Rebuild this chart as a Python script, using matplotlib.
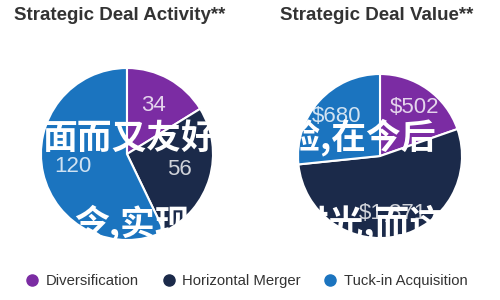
import matplotlib.pyplot as plt
from matplotlib.lines import Line2D

plt.rcParams["font.family"] = ["Liberation Sans", "DejaVu Sans"]

# Data
categories = ["Diversification", "Horizontal Merger", "Tuck-in Acquisition"]
deal_counts = [34, 56, 120]
deal_values = [502, 1371, 680]  # $M
count_labels = ["34", "56", "120"]
value_labels = ["$502", "$1,371", "$680"]
titles = ["Strategic Deal Activity**", "Strategic Deal Value**"]
colors = ["#7b2ca3", "#1b2a4a", "#1b74bf"]

# overlaid watermark text (white)
watermark_rows = ["面而又友好的体验,在今后", "令,实现的目标时光,而这"]


def draw_pie(ax, values, labels, center, radius, explode_idx, pctdist):
    it = iter(labels)
    explode = [0.05 if i == explode_idx else 0 for i in range(len(values))]
    wedges, _, autotexts = ax.pie(
        values,
        center=center,
        radius=radius,
        colors=colors,
        startangle=90,
        counterclock=False,
        explode=explode,
        autopct=lambda p: next(it),
        pctdistance=pctdist,
        wedgeprops=dict(edgecolor="white", linewidth=1.5),
        textprops=dict(color="white", alpha=0.8, fontsize=16),
    )
    return wedges


fig = plt.figure(figsize=(5, 3), dpi=100)
ax = fig.add_axes([0, 0, 1, 1])

# coordinates in pixels, y measured from the bottom
draw_pie(ax, deal_counts, count_labels, (127, 146), 86, 2, 0.64)
draw_pie(ax, deal_values, value_labels, (380, 144), 82, 1, 0.72)

ax.set_xlim(0, 500)
ax.set_ylim(0, 300)
ax.set_aspect("equal")
ax.axis("off")

ax.text(120, 285, titles[0], ha="center", va="center", fontsize=13.5,
        fontweight="bold", color="#333333")
ax.text(377, 285, titles[1], ha="center", va="center", fontsize=13.5,
        fontweight="bold", color="#333333")

for row, (x, y) in zip(watermark_rows, [(42, 163), (74, 77)]):
    ax.text(x, y, row, ha="left", va="center", fontsize=25, fontweight="bold",
            color="white", family=["Noto Sans CJK SC", "DejaVu Sans"], zorder=10)

handles = [Line2D([], [], marker="o", linestyle="", markersize=8,
                  markerfacecolor=c, markeredgecolor=c) for c in colors]
fig.legend(handles, categories, loc="center", bbox_to_anchor=(0.494, 0.063),
           ncol=3, frameon=False, fontsize=10.7, handlelength=0.8,
           handletextpad=0.5, columnspacing=1.6, labelcolor="#333333")

fig.savefig("out.png", dpi=100)
